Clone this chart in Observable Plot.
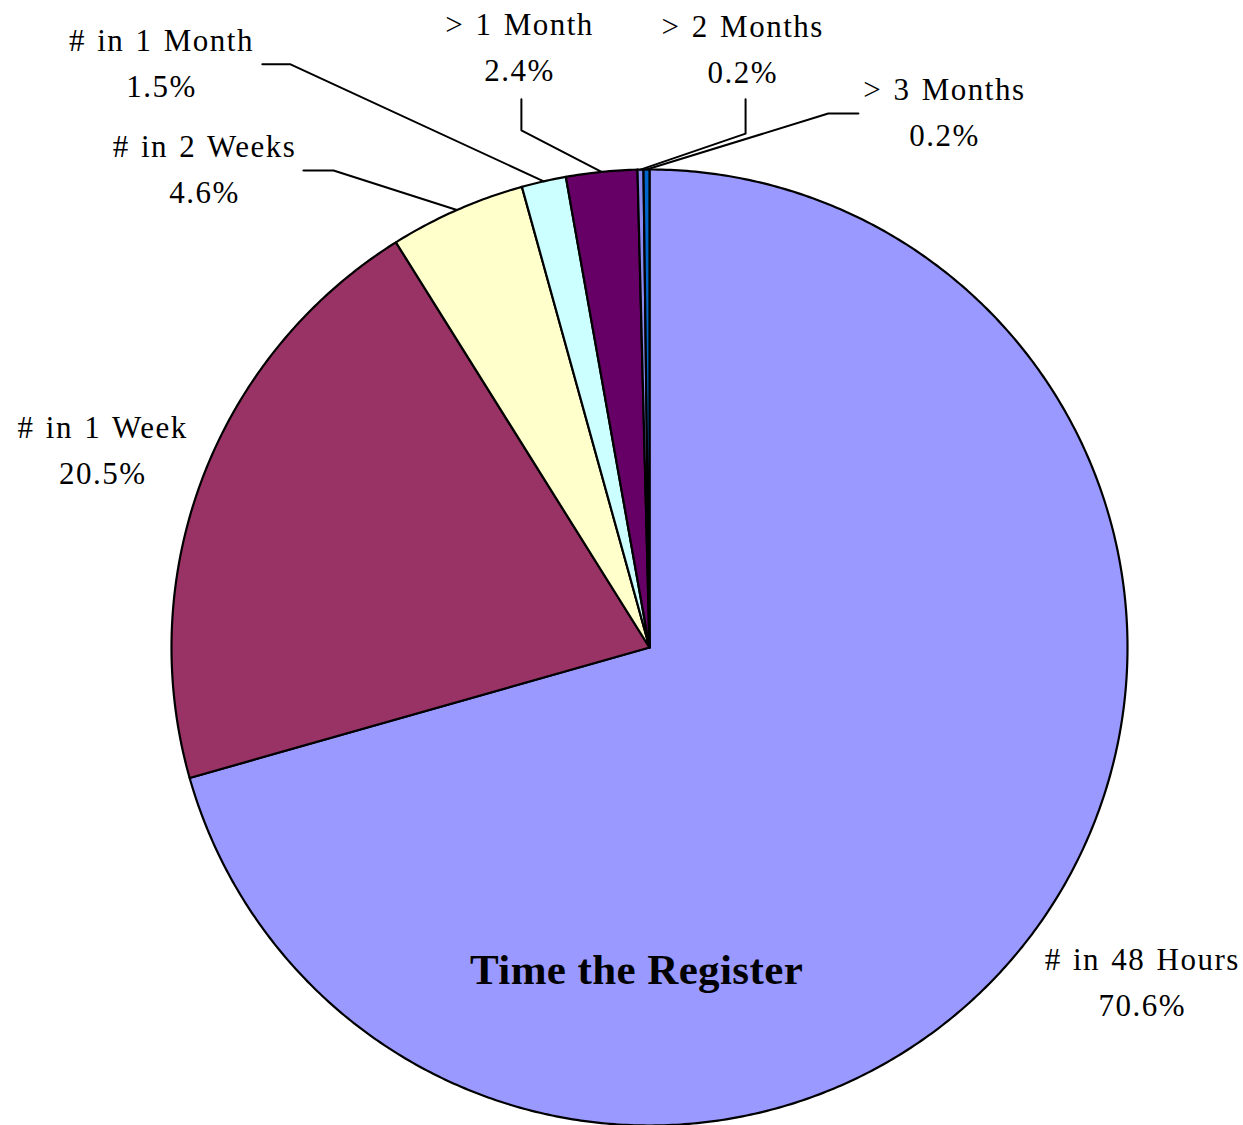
<!DOCTYPE html>
<html>
<head>
<meta charset="utf-8">
<script src="https://cdn.jsdelivr.net/npm/d3@7"></script>
<script src="https://cdn.jsdelivr.net/npm/@observablehq/plot@0.6"></script>
<style>
  html, body { margin: 0; padding: 0; background: #fff; }
  svg { display: block; }
</style>
</head>
<body>
<div id="chart"></div>
<script>
// ---- data ----
const categories = ["# in 48 Hours", "# in 1 Week", "# in 2 Weeks", "# in 1 Month", "> 1 Month", "> 2 Months", "> 3 Months"];
const percents = [70.6, 20.5, 4.6, 1.5, 2.4, 0.2, 0.2];
const pctLabels = ["70.6%", "20.5%", "4.6%", "1.5%", "2.4%", "0.2%", "0.2%"];
const sliceColors = ["#9999FF", "#993366", "#FFFFCC", "#CCFFFF", "#660066", "#8C8CF0", "#0066CC"];
const chartTitle = "Time the Register";

// ---- label layout (unit-circle coordinates, separate from data) ----
const labelPos = [
  [1.031, -0.702], [-1.144, 0.410], [-0.931, 0.998], [-1.021, 1.220],
  [-0.272, 1.253], [0.195, 1.249], [0.617, 1.118]
];
// leader start and elbow (null = no leader)
const leaderPts = [
  null, null,
  [[-0.724, 0.998], [-0.661, 0.998]],
  [[-0.810, 1.220], [-0.751, 1.220]],
  [[-0.268, 1.147], [-0.268, 1.082]],
  [[0.201, 1.147], [0.201, 1.075]],
  [[0.437, 1.117], [0.374, 1.117]]
];
const titlePos = [-0.027, -0.676];

// ---- geometry from data ----
const total = d3.sum(percents);
const slices = [];
const leaders = [];
let start = 0;
percents.forEach((p, i) => {
  const a0 = start / total * 2 * Math.PI;
  const a1 = (start + p) / total * 2 * Math.PI;
  start += p;
  const pts = [{name: categories[i], x: 0, y: 0}];
  const n = Math.max(2, Math.ceil((a1 - a0) / (Math.PI / 360)));
  for (let k = 0; k <= n; k++) {
    const a = a0 + (a1 - a0) * k / n;
    pts.push({name: categories[i], x: Math.sin(a), y: Math.cos(a)});
  }
  pts.push({name: categories[i], x: 0, y: 0});
  slices.push(...pts);
  if (leaderPts[i]) {
    const am = (a0 + a1) / 2;
    leaders.push({name: categories[i], x: leaderPts[i][0][0], y: leaderPts[i][0][1]});
    leaders.push({name: categories[i], x: leaderPts[i][1][0], y: leaderPts[i][1][1]});
    leaders.push({name: categories[i], x: Math.sin(am), y: Math.cos(am)});
  }
});
const labels = categories.map((c, i) => ({text: c + "\n" + pctLabels[i], x: labelPos[i][0], y: labelPos[i][1]}));

const chart = Plot.plot({
  width: 1243,
  height: 1125,
  margin: 0,
  x: {domain: [-1, 1], range: [171, 1127], axis: null},
  y: {domain: [-1, 1], range: [1125, 169], axis: null},
  color: {domain: categories, range: sliceColors},
  style: {background: "#fff"},
  marks: [
    Plot.line(slices, {x: "x", y: "y", z: "name", fill: "name", stroke: "#000", strokeWidth: 2.2, strokeLinejoin: "round", curve: "linear"}),
    Plot.line(leaders, {x: "x", y: "y", z: "name", stroke: "#000", strokeWidth: 2}),
    Plot.text(labels, {x: "x", y: "y", text: "text", dy: -5, fontFamily: "Liberation Serif", fontSize: 31, lineHeight: 1.48, fill: "#000", textAnchor: "middle"}),
    Plot.text([chartTitle], {x: () => titlePos[0], y: () => titlePos[1], text: d => d, fontFamily: "Liberation Serif", fontSize: 43, fontWeight: "bold", fill: "#000"})
  ]
});
// text spacing tweaks (Excel-like spacing)
d3.select(chart).selectAll("g[font-size='31']").style("letter-spacing", "1.5px").style("word-spacing", "2px");
d3.select(chart).selectAll("g[font-weight='bold']").style("letter-spacing", "0.4px");
document.getElementById("chart").appendChild(chart);
</script>
</body>
</html>
